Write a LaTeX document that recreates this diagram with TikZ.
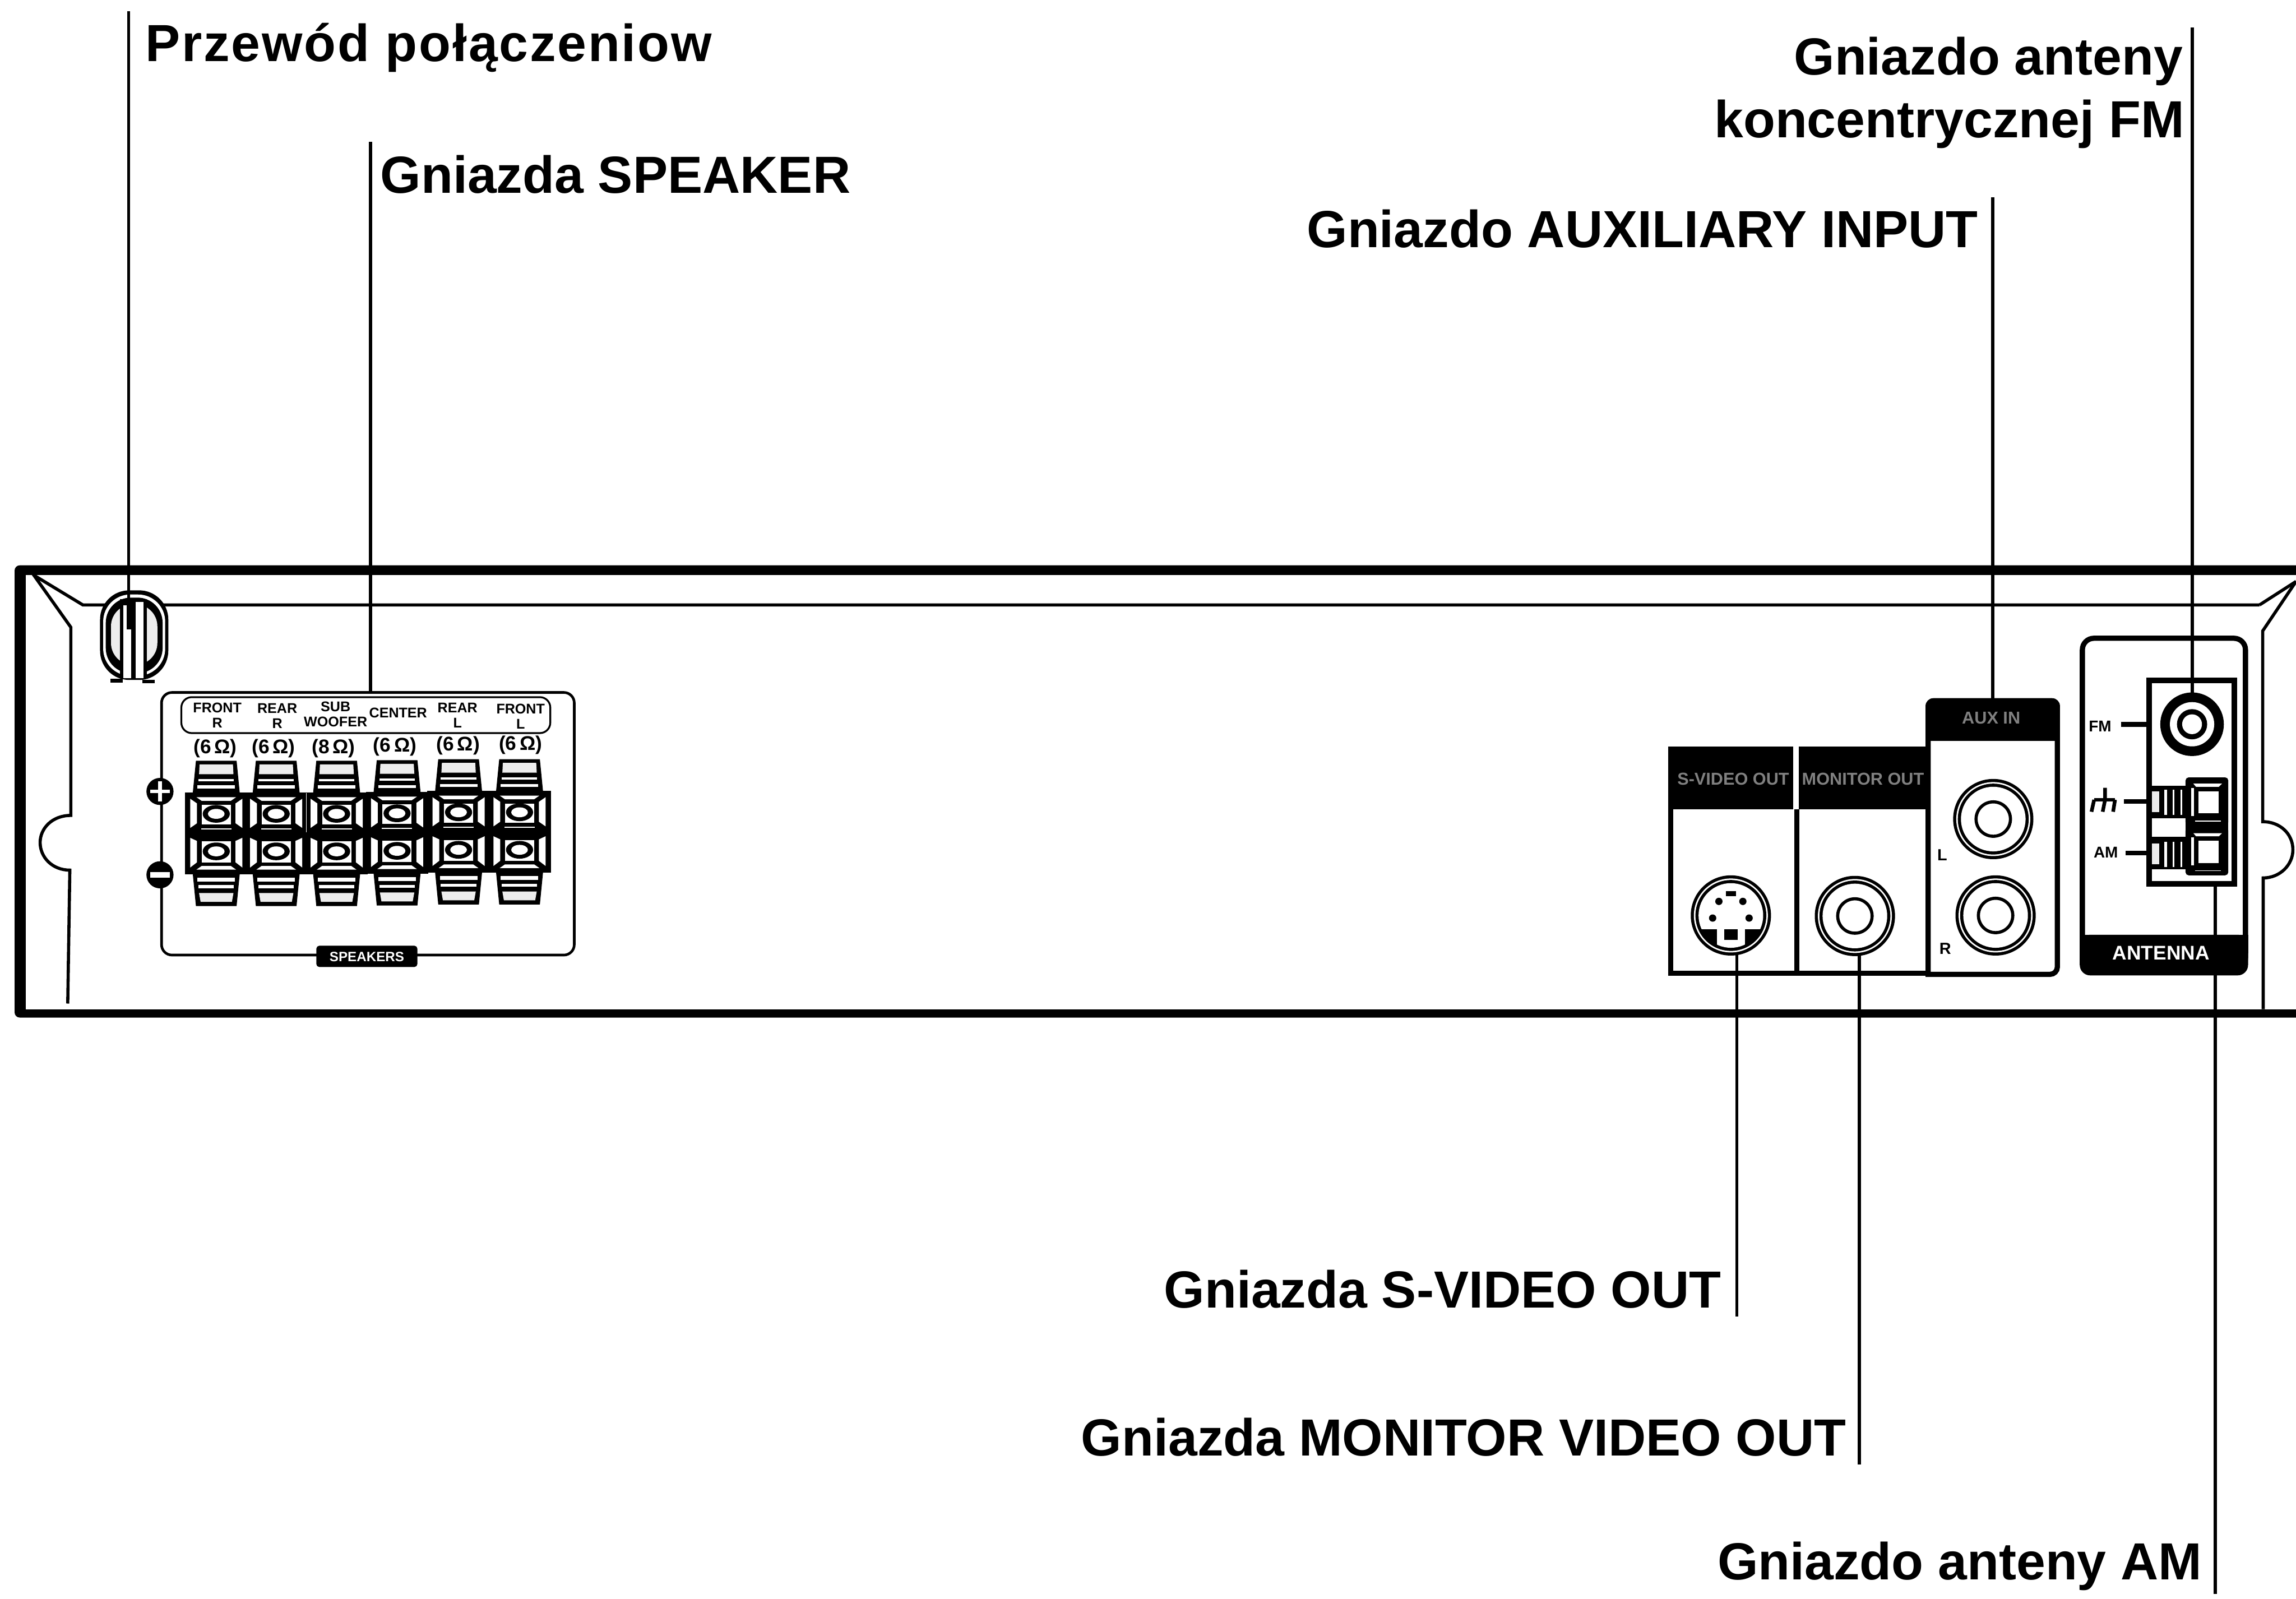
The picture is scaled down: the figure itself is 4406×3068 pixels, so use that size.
\documentclass[tikz,border=0pt]{standalone}
\usepackage{fontspec}
\setmainfont{Liberation Sans}
\tikzset{
  biglab/.style={font=\fontsize{100.2}{110}\selectfont\bfseries, inner sep=0pt},
  spklab/.style={font=\fontsize{27}{28.6}\selectfont\bfseries, inner sep=0pt, align=center},
  ohmlab/.style={font=\fontsize{38}{40}\selectfont\bfseries, inner sep=0pt},
  tinylab/.style={font=\fontsize{31}{33}\selectfont\bfseries, inner sep=0pt},
  headlab/.style={font=\fontsize{33}{35}\selectfont\bfseries, inner sep=0pt, text=black!50},
  leader/.style={line width=6pt},
  knob/.style={fill=black!7},
}
\begin{document}
\begin{tikzpicture}[x=1pt, y=-1pt]
\useasboundingbox (0,0) rectangle (4406,3068);

% chassis
\fill [rounded corners=10pt] (28,1085) rectangle (4500,1953);
\fill [white] (50,1104) rectangle (4500,1937);

\begin{scope}[line width=6pt]
\draw (4336,1161) -- (159,1161) -- (65,1104) -- (136,1204) -- (136,1565) .. controls (100,1565) and (77,1590) .. (77,1617) .. controls (77,1645) and (100,1670) .. (134,1670) -- (130,1926);
\draw (4406,1116) -- (4336,1161);
\draw (4406,1116) -- (4342,1211) -- (4342,1577) .. controls (4375,1577) and (4400,1600) .. (4400,1631) .. controls (4400,1660) and (4375,1685) .. (4343,1685) -- (4343,1937);
\end{scope}

% cord grommet
\fill [rounded corners=56pt] (192,1133) rectangle (323,1305);
\fill [white, rounded corners=52pt] (198,1141) rectangle (317,1297);
\fill [rounded corners=48pt] (203,1147) rectangle (312,1292);
\fill [knob, rounded corners=42pt] (213,1160) rectangle (302,1276);
\fill [white] (237,1162) rectangle (252,1302);
\fill [white] (260,1155) rectangle (275,1302);
\fill (230,1150) rectangle (237,1300);
\fill (252,1150) rectangle (260,1302);
\fill (275,1150) rectangle (282,1300);
\fill (243,1150) rectangle (252,1208);
\fill (212,1303) rectangle (236,1310);
\fill (273,1305) rectangle (297,1311);

% speaker panel
\draw [rounded corners=20pt, line width=5pt] (310,1329) rectangle (1102,1833);
\draw [rounded corners=20pt, line width=3.5pt] (348,1338) rectangle (1056,1407);

\node [spklab] (fr) at (417,1373) {FRONT\\R};
\node [spklab] (rr) at (532,1374) {REAR\\R};
\node [spklab] (sw) at (644,1371) {SUB\\WOOFER};
\node [spklab] (ce) at (764,1368) {CENTER};
\node [spklab] (rl) at (878,1373) {REAR\\L};
\node [spklab] (fl) at (999,1375) {FRONT\\L};

\foreach \i/\x/\y/\r in {1/413/1436/6, 2/525/1436/6, 3/640/1436/8, 4/758/1433/6, 5/879/1431/6, 6/999/1430/6}
  \node [ohmlab] (ohm\i) at (\x,\y) {(\r\,Ω)};

% terminals
\foreach \cx/\dy in {415/0, 530/0, 646/0, 762/-1, 880/-3, 997/-3} {
\begin{scope}[shift={(\cx,\dy)}]
\fill (-60,1521) rectangle (60,1678);
\fill (-39,1460) -- (39,1460) -- (45,1521) -- (-45,1521) -- cycle; %top knob
\fill [knob] (-32,1467) -- (32,1467) -- (33,1486) -- (-33,1486) -- cycle;
\fill [white] (-34,1495) rectangle (34,1499);
\fill [white] (-36,1507.5) rectangle (36,1513);
\fill (-45,1678) -- (45,1678) -- (39,1739) -- (-39,1739) -- cycle; %bottom knob
\fill [white] (-36,1684) rectangle (36,1692);
\fill [white] (-34,1699) rectangle (34,1705);
\fill [knob] (-33,1714) -- (33,1714) -- (30,1731) -- (-30,1731) -- cycle;
\foreach \s in {-1,1} {
\fill [white] (\s*50,1533) -- (\s*37,1542) -- (\s*37,1580) -- (\s*50,1589) -- cycle;
\fill [white] (\s*50,1608) -- (\s*37,1614) -- (\s*37,1655) -- (\s*50,1665) -- cycle;
}
\fill [white] (-38,1530) -- (38,1530) -- (28,1537) -- (-28,1537) -- cycle;
\fill [white] (-28,1662) -- (28,1662) -- (38,1669) -- (-38,1669) -- cycle;
\fill [white] (-28,1545) rectangle (28,1582);
\fill [white] (-28,1615) rectangle (28,1655);
\fill [white] (-29,1590) rectangle (29,1592);
\foreach \ey in {1562,1634} {
\fill (0,\ey) ellipse (26 and 17);
\fill [white] (0,\ey) ellipse (16 and 9.5);
}
\end{scope}
}
\draw [white, line width=1.5pt] (588,1522) -- (588,1597);

% plus and minus
\fill (307,1519) circle (26);
\fill [white] (288,1515.5) rectangle (326,1522.5);
\fill [white] (303.5,1500) rectangle (310.5,1538);
\fill (307,1679) circle (26);
\fill [white] (288,1674) rectangle (326,1684);

\fill [rounded corners=6pt] (607,1815) rectangle (801,1856);
\node [font=\fontsize{26}{28}\selectfont\bfseries, text=white, inner sep=0pt] (spk) at (704,1836) {SPEAKERS};

% video boxes
\fill (3201,1433) rectangle (3441,1553);
\fill (3452,1433) rectangle (3695,1553);
\begin{scope}[line width=10pt]
\draw (3206,1553) -- (3206,1868) -- (3700,1868);
\draw (3448,1553) -- (3448,1868);
\draw (3700,1422) -- (3700,1870) [rounded corners=14pt] -- (3948,1870) -- (3948,1422);
\end{scope}
\fill [rounded corners=15pt] (3695,1340) rectangle (3953,1422);
\fill (3695,1390) rectangle (3953,1422);
\node [headlab] (hsv) at (3326,1495) {S-VIDEO OUT};
\node [headlab] (hmo) at (3575,1495) {MONITOR OUT};
\node [headlab] (hax) at (3821,1378) {AUX IN};
\node [tinylab] (ll) at (3727,1641) {L};
\node [tinylab] (lr) at (3733,1821) {R};

% jacks
\foreach \x/\y in {3321.5/1757, 3559.5/1758, 3825/1572, 3829.5/1757} {
\fill (\x,\y) circle (77);
\fill [white] (\x,\y) circle (71);
\fill (\x,\y) circle (68);
\fill [white] (\x,\y) circle (62);
}
\foreach \x/\y in {3559.5/1758, 3825/1572, 3829.5/1757}
  \draw [line width=6pt] (\x,\y) circle (33);

% s-video pins
\begin{scope}[shift={(3321.5,0)}]
\fill (-10,1710) rectangle (10,1720);
\fill (-13,1783) rectangle (13,1804);
\foreach \x/\y in {-23/1730, 23/1730, -35/1762, 35/1762}
  \fill (\x,\y) circle (7);
\begin{scope}
\clip (0,1757) circle (63);
\fill (-70,1783) rectangle (-27,1830);
\fill (27,1783) rectangle (70,1830);
\end{scope}
\end{scope}

% antenna panel
\draw [rounded corners=22pt, line width=10pt] (3996,1225) rectangle (4309,1860);
\fill [rounded corners=20pt] (3991,1794) rectangle (4314,1872);
\fill (3991,1794) rectangle (4314,1830);
\node [font=\fontsize{38}{40}\selectfont\bfseries, text=white, inner sep=0pt] (ant) at (4147,1829) {ANTENNA};
\draw [line width=10.5pt] (4124.5,1305.5) rectangle (4288,1696);

\fill (4206.5,1390) circle (61);
\fill [white] (4206.5,1390) circle (42.5);
\fill (4206.5,1390) circle (29);
\fill [white] (4206.5,1390) circle (19);

% am/gnd posts
\fill (4130,1508) rectangle (4196,1570);
\fill (4130,1606) rectangle (4196,1668);
\foreach \y in {0,100} {
\begin{scope}[shift={(0,\y)}]
\fill [knob] (4130,1519) rectangle (4143,1559);
\fill [white] (4153,1516) rectangle (4159,1564);
\fill [white] (4169,1516) rectangle (4172.5,1564);
\fill [white] (4184,1516) rectangle (4188,1564);
\end{scope}
}
\fill [rounded corners=6pt] (4194,1492) rectangle (4276,1584);
\fill [rounded corners=6pt] (4194,1588) rectangle (4276,1680);
\fill (4194,1575) rectangle (4276,1595);
\foreach \y in {0,95} {
\begin{scope}[shift={(0,\y)}]
\fill [white] (4219,1519) rectangle (4258,1561);
\fill [white] (4209,1504) -- (4264,1504) -- (4258,1510) -- (4214,1510) -- cycle;
\fill [white] (4205,1512) rectangle (4210,1566);
\fill [white] (4212,1575) rectangle (4262,1577);
\end{scope}
}

\node [tinylab, font=\fontsize{30}{32}\selectfont\bfseries] (fm) at (4030,1394) {FM};
\node [tinylab, font=\fontsize{30}{32}\selectfont\bfseries] (am) at (4041,1636) {AM};
\draw [line width=10pt] (4070,1390) -- (4119,1390);
\draw [line width=8pt] (4076,1538) -- (4119,1538);
\draw [line width=8pt] (4079,1637) -- (4119,1637);

\begin{scope}[line width=7pt]
\draw (4018.6,1535) -- (4058.7,1535);
\draw (4039.6,1512) -- (4039.6,1535) -- (4035,1558);
\draw (4018.6,1535) -- (4013.5,1558);
\draw (4058.7,1535) -- (4055,1558);
\end{scope}

% labels
\node [biglab, anchor=base west] (lcord) at (279,118) {\addfontfeature{LetterSpace=3}Przewód połączeniow};
\node [biglab, anchor=base west] (lspk) at (730,371) {Gniazda SPEAKER};
\node [biglab, anchor=base east] (lfma) at (4189,144) {Gniazdo anteny};
\node [biglab, anchor=base east] (lfmb) at (4192,264) {koncentrycznej FM};
\node [biglab, anchor=base east] (laux) at (3796,475) {Gniazdo AUXILIARY INPUT};
\node [biglab, anchor=base east] (lsv) at (3303,2510) {Gniazda S-VIDEO OUT};
\node [biglab, anchor=base east] (lmon) at (3543,2794) {Gniazda MONITOR VIDEO OUT};
\node [biglab, anchor=base east] (lam) at (4226,3032) {Gniazdo anteny AM};

% leaders
\coordinate (cordtop) at (247,22);
\coordinate (cordend) at (247,1160);
\coordinate (spktop) at (711,272);
\coordinate (spkend) at (711,1329);
\coordinate (fmtop) at (4207,53);
\coordinate (fmend) at (4207,1330);
\coordinate (auxtop) at (3824,379);
\coordinate (auxend) at (3824,1342);
\coordinate (svtop) at (3333,1832);
\coordinate (svend) at (3333,2527);
\coordinate (montop) at (3568,1833);
\coordinate (monend) at (3568,2811);
\coordinate (amtop) at (4251,1700);
\coordinate (amend) at (4251,3059);
\foreach \a/\b in {cordtop/cordend, spktop/spkend, fmtop/fmend, auxtop/auxend, svtop/svend, montop/monend, amtop/amend}
  \draw [leader] (\a) -- (\b);

\end{tikzpicture}
\end{document}
